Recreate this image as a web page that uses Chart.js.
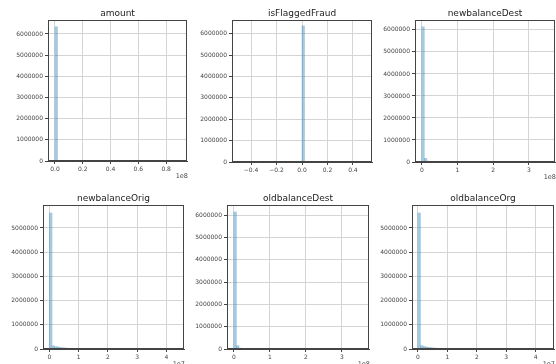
<!DOCTYPE html>
<html>
<head>
<meta charset="utf-8">
<script src="https://cdn.jsdelivr.net/npm/chart.js@4/dist/chart.umd.min.js"></script>
<style>
  body { margin: 0; background: #fff; width: 556px; height: 364px; overflow: hidden; position: relative; }
  canvas { position: absolute; }
</style>
</head>
<body>
<script>
// one histogram per column of the dataframe
const titles = ['amount', 'isFlaggedFraud', 'newbalanceDest', 'newbalanceOrig', 'oldbalanceDest', 'oldbalanceOrg'];

// first bin edge and bin width, in the units shown on the x axis
const binStarts = [0, -0.02, 0, 0, 0, 0];
const binWidths = [0.0185, 0.02, 0.0712, 0.0878, 0.0712, 0.0878];

// counts of the leftmost bins (the rest are empty at this scale)
const amountCounts = [6340000, 18000, 2500];
const isFlaggedFraudCounts = [0, 6362620, 0];
const newbalanceDestCounts = [6140000, 160000, 40000, 12000, 5000];
const newbalanceOrigCounts = [5620000, 130000, 100000, 80000, 60000, 50000, 40000, 30000, 25000, 20000, 15000, 12000];
const oldbalanceDestCounts = [6140000, 150000, 40000, 10000];
const oldbalanceOrgCounts = [5620000, 140000, 100000, 80000, 60000, 50000, 40000, 30000, 20000, 15000, 10000];
const allCounts = [amountCounts, isFlaggedFraudCounts, newbalanceDestCounts, newbalanceOrigCounts, oldbalanceDestCounts, oldbalanceOrgCounts];

const xLimits = [[-0.05, 0.95], [-0.55, 0.55], [-0.19, 3.73], [-0.22, 4.6], [-0.19, 3.75], [-0.2, 4.62]];
const xTicks = [[0, 0.2, 0.4, 0.6, 0.8], [-0.4, -0.2, 0, 0.2, 0.4], [0, 1, 2, 3], [0, 1, 2, 3, 4], [0, 1, 2, 3], [0, 1, 2, 3, 4]];
const xTickLabels = [
  ['0.0', '0.2', '0.4', '0.6', '0.8'],
  ['\u22120.4', '\u22120.2', '0.0', '0.2', '0.4'],
  ['0', '1', '2', '3'],
  ['0', '1', '2', '3', '4'],
  ['0', '1', '2', '3'],
  ['0', '1', '2', '3', '4']
];
const xOffsetLabels = ['1e8', '', '1e8', '1e7', '1e8', '1e7'];

const yMax = [6660000, 6640000, 6450000, 5950000, 6450000, 5950000];
const yTicksSix = [0, 1000000, 2000000, 3000000, 4000000, 5000000, 6000000];
const yTicksFive = [0, 1000000, 2000000, 3000000, 4000000, 5000000];
const yTicks = [yTicksSix, yTicksSix, yTicksSix, yTicksFive, yTicksSix, yTicksFive];

// plot area boxes [left, top, right, bottom] in page pixels
const boxes = [
  [48, 20, 187, 161], [232, 20, 372, 162], [415, 20, 555, 162],
  [43, 205, 184, 349], [227, 205, 369, 349], [412, 205, 554, 349]
];
const padL = 44, padT = 20, padR = 3, padB = 24;

Chart.defaults.font.family = '"DejaVu Sans", sans-serif';

const framePlugin = {
  id: 'frame',
  afterDraw(chart, args, opts) {
    const { ctx, chartArea: a } = chart;
    ctx.save();
    ctx.strokeStyle = '#444';
    ctx.lineWidth = 1;
    ctx.strokeRect(Math.round(a.left) + 0.5, Math.round(a.top) + 0.5, Math.round(a.right - a.left) - 1, Math.round(a.bottom - a.top) - 1);
    ctx.fillStyle = '#222';
    ctx.font = '9px "DejaVu Sans", sans-serif';
    ctx.textAlign = 'center';
    ctx.textBaseline = 'middle';
    ctx.fillText(opts.title, (a.left + a.right) / 2, a.top - 6);
    if (opts.offset) {
      ctx.fillStyle = '#444';
      ctx.font = '6.5px "DejaVu Sans", sans-serif';
      ctx.textAlign = 'right';
      ctx.fillText(opts.offset, a.right + 1, a.bottom + 15);
    }
    ctx.restore();
  }
};

titles.forEach((title, i) => {
  const [L, T, R, B] = boxes[i];
  const cv = document.createElement('canvas');
  cv.width = (R - L) + padL + padR;
  cv.height = (B - T) + padT + padB;
  cv.style.left = (L - padL) + 'px';
  cv.style.top = (T - padT) + 'px';
  document.body.appendChild(cv);

  const points = allCounts[i].map((c, k) => ({ x: binStarts[i] + (k + 0.5) * binWidths[i], y: c }));

  new Chart(cv, {
    type: 'bar',
    data: {
      datasets: [{
        data: points,
        backgroundColor: 'rgba(31,119,180,0.4)',
        borderWidth: 0,
        barPercentage: 1,
        categoryPercentage: 1
      }]
    },
    options: {
      responsive: false,
      animation: false,
      layout: { padding: { top: padT, right: padR, left: 0, bottom: 0 } },
      plugins: {
        legend: { display: false },
        tooltip: { enabled: false },
        frame: { title: title, offset: xOffsetLabels[i] }
      },
      scales: {
        x: {
          type: 'linear',
          offset: false,
          min: xLimits[i][0],
          max: xLimits[i][1],
          afterBuildTicks: (s) => { s.ticks = xTicks[i].map((v) => ({ value: v })); },
          afterFit: (s) => { s.height = padB; },
          grid: { offset: false, color: '#d4d4d4', tickColor: '#444', tickLength: 3 },
          border: { display: true, color: '#444' },
          ticks: {
            autoSkip: false,
            maxRotation: 0,
            padding: 2,
            color: '#444',
            font: { size: 6 },
            callback: (v, k) => xTickLabels[i][k]
          }
        },
        y: {
          min: 0,
          max: yMax[i],
          afterBuildTicks: (s) => { s.ticks = yTicks[i].map((v) => ({ value: v })); },
          afterFit: (s) => { s.width = padL; },
          grid: { color: '#d4d4d4', tickColor: '#444', tickLength: 3 },
          border: { display: true, color: '#444' },
          ticks: {
            autoSkip: false,
            padding: 2,
            color: '#444',
            font: { size: 6 },
            callback: (v) => String(v)
          }
        }
      }
    },
    plugins: [framePlugin]
  });
});
</script>
</body>
</html>
